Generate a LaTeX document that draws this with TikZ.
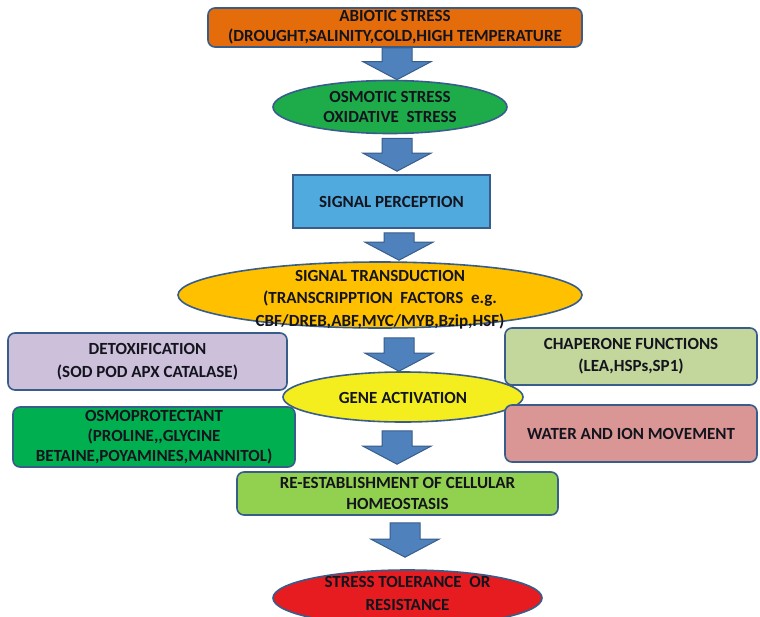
\documentclass[tikz,border=0pt]{standalone}
\usepackage{fontspec}
\setmainfont{Carlito}
\usetikzlibrary{shapes.geometric,calc}

\definecolor{edgeblue}{RGB}{56,93,138}
\definecolor{arrowblue}{RGB}{79,129,189}
\definecolor{abioticorange}{RGB}{228,108,10}
\definecolor{osmoticgreen}{RGB}{30,172,74}
\definecolor{perceptionblue}{RGB}{80,170,222}
\definecolor{transductionyellow}{RGB}{255,192,0}
\definecolor{detoxlilac}{RGB}{204,192,218}
\definecolor{chaperonegreen}{RGB}{195,214,155}
\definecolor{geneyellow}{RGB}{245,238,30}
\definecolor{protectgreen}{RGB}{0,176,80}
\definecolor{waterpink}{RGB}{217,150,148}
\definecolor{homeogreen}{RGB}{146,208,80}
\definecolor{tolerancered}{RGB}{230,28,32}
\definecolor{labeltext}{RGB}{20,20,30}

\newcommand{\blockarrow}[5]{%
  \filldraw[fill=arrowblue,draw=edgeblue,line width=1pt,line join=miter]
    let \p1=(#1.south), \p2=(#2.north) in
    ({#3pt-15pt},{\y1-#4pt}) -- ({#3pt+15pt},{\y1-#4pt})
    -- ({#3pt+15pt},{\y2+#5pt+18pt}) -- ({#3pt+34pt},{\y2+#5pt+18pt})
    -- ({#3pt},{\y2+#5pt}) -- ({#3pt-34pt},{\y2+#5pt+18pt})
    -- ({#3pt-15pt},{\y2+#5pt+18pt}) -- cycle;}

\begin{document}
\begin{tikzpicture}[x=1pt,y=-1pt,
  lbl/.style={align=center,text=labeltext,inner sep=0pt,
    font=\fontsize{17}{21}\selectfont\bfseries},
  box/.style={lbl,draw=edgeblue,line width=1.6pt,rounded corners=7pt},
  oval/.style={draw=edgeblue,line width=1.6pt,ellipse,inner sep=0pt}]
\clip (0,0) rectangle (760,616);
\fill[white] (0,0) rectangle (760,616);

\node[box,fill=abioticorange,minimum width=374pt,minimum height=39pt,
  font=\fontsize{17}{20}\selectfont\bfseries] (abiotic) at (395,27.5)
  {ABIOTIC STRESS\\(DROUGHT,SALINITY,COLD,HIGH TEMPERATURE};
\node[oval,fill=osmoticgreen,minimum width=234pt,minimum height=53pt] (osmotic) at (390,107) {};
\node[lbl,font=\fontsize{17}{20.5}\selectfont\bfseries] (osmoticlabel) at (osmotic)
  {OSMOTIC STRESS\\OXIDATIVE~~STRESS};
\node[box,fill=perceptionblue,minimum width=197pt,minimum height=53pt,rounded corners=0pt] (perception) at (391.5,201.5)
  {SIGNAL PERCEPTION};
\node[oval,fill=transductionyellow,minimum width=404pt,minimum height=66pt] (transduction) at (380,295) {};
\node[lbl,font=\fontsize{17}{22.5}\selectfont\bfseries] (transductionlabel) at (380,299.5)
  {SIGNAL TRANSDUCTION\\(TRANSCRIPPTION~~FACTORS~~e.g.\\CBF/DREB,ABF,MYC/MYB,Bzip,HSF)};
\node[box,fill=detoxlilac,minimum width=279pt,minimum height=57pt,
  font=\fontsize{17}{23}\selectfont\bfseries] (detox) at (147.5,361.5)
  {DETOXIFICATION\\(SOD POD APX CATALASE)};
\node[box,fill=chaperonegreen,minimum width=252pt,minimum height=57pt,
  font=\fontsize{17}{22}\selectfont\bfseries] (chaperone) at (631,356.5)
  {CHAPERONE FUNCTIONS\\(LEA,HSPs,SP1)};
\node[oval,fill=geneyellow,minimum width=240pt,minimum height=50pt] (gene) at (403,397) {};
\node[lbl] (genelabel) at (403,398) {GENE ACTIVATION};
\node[box,fill=protectgreen,minimum width=282pt,minimum height=60pt,
  font=\fontsize{17}{20}\selectfont\bfseries] (protectant) at (154,437)
  {OSMOPROTECTANT\\(PROLINE{,}{,}GLYCINE\\BETAINE,POYAMINES,MANNITOL)};
\node[box,fill=waterpink,minimum width=252pt,minimum height=57pt] (water) at (631,433.5)
  {WATER AND ION MOVEMENT};
\node[box,fill=homeogreen,minimum width=321pt,minimum height=43pt] (homeostasis) at (397.5,493.5)
  {RE-ESTABLISHMENT OF CELLULAR\\HOMEOSTASIS};
\node[oval,fill=tolerancered,minimum width=269pt,minimum height=56pt] (tolerance) at (407.5,598) {};
\node[lbl,font=\fontsize{17}{23}\selectfont\bfseries] (tolerancelabel) at (407.5,593.5)
  {STRESS TOLERANCE~~OR\\RESISTANCE};

\foreach \from/\to/\ax/\gapa/\gapb in {abiotic/osmotic/397/0/0,
  osmotic/perception/397/4/3, perception/transduction/399/4/1,
  transduction/gene/399/9/0, gene/homeostasis/397/8/7,
  homeostasis/tolerance/405/7/12}
  \blockarrow{\from}{\to}{\ax}{\gapa}{\gapb};
\end{tikzpicture}
\end{document}
